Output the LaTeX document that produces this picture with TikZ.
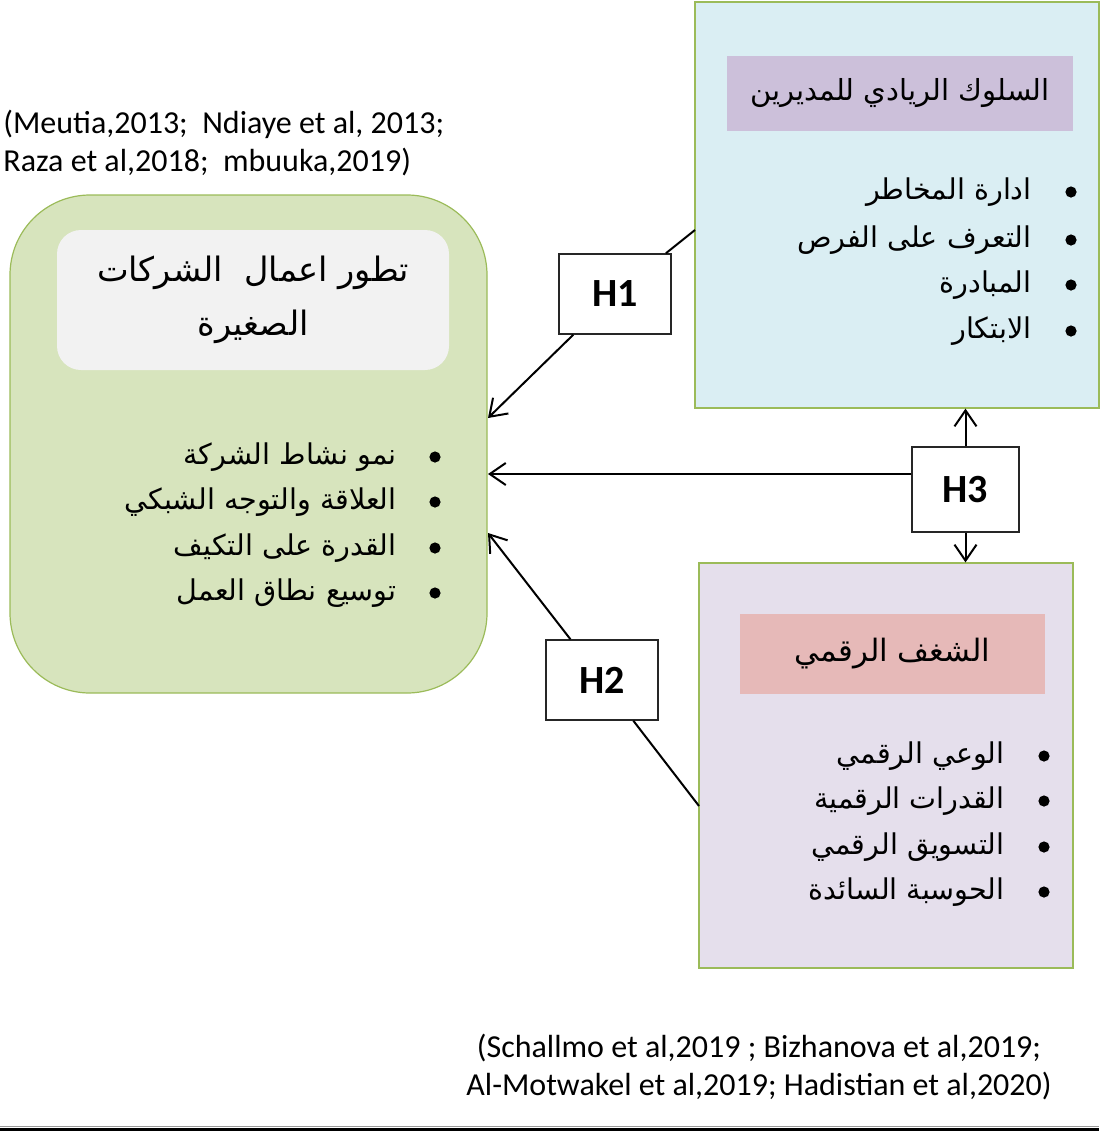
\documentclass[tikz,border=0pt]{standalone}
\usepackage{fontspec}
\setmainfont{Carlito}
\newfontfamily\arabicfont[Script=Arabic]{DejaVu Sans}
\TeXXeTstate=1
\usetikzlibrary{arrows.meta}
\definecolor{edgegreen}{HTML}{9BBB59}
\definecolor{fillgreen}{HTML}{D7E4BD}
\definecolor{fillgray}{HTML}{F2F2F2}
\definecolor{fillblue}{HTML}{DAEEF3}
\definecolor{fillmauve}{HTML}{CCC0DA}
\definecolor{filllilac}{HTML}{E5DFEC}
\definecolor{fillpink}{HTML}{E6B9B8}
\newcommand{\artext}[1]{{\arabicfont\beginR #1\endR}}
\begin{document}
\begin{tikzpicture}[x=0.5pt, y=-0.5pt, >={Straight Barb[length=8pt,width=11pt]},
    bigbox/.style={draw=edgegreen, line width=0.6pt, inner sep=0pt},
    titlebox/.style={inner sep=0pt, font=\fontsize{14.5}{19}\selectfont},
    hbox/.style={draw=black!85, fill=white, line width=0.7pt, inner sep=0pt,
        minimum width=56pt, minimum height=40pt, font=\bfseries\fontsize{20}{22}\selectfont},
    item/.style={anchor=east, inner sep=0pt, font=\fontsize{14.3}{16}\selectfont},
    cite/.style={inner sep=0pt, font=\fontsize{16}{19}\selectfont}]
    \useasboundingbox (0,0) rectangle (1099,1131);

    % 1. Khung lớn
    \node[bigbox, fill=fillblue, minimum width=202pt, minimum height=203pt] (bev) at (897,205) {};
    \node[bigbox, fill=fillgreen, rounded corners=40pt, minimum width=238.5pt, minimum height=249pt] (grow) at (248.5,444) {};
    \node[bigbox, fill=filllilac, minimum width=187pt, minimum height=202.5pt] (dig) at (886,765.5) {};

    % 2. Tiêu đề
    \node[titlebox, fill=fillmauve, minimum width=173pt, minimum height=37.5pt] (bevt) at (900,93.5) {\artext{السلوك الريادي للمديرين}};
    \node[titlebox, fill=fillgray, rounded corners=12pt, minimum width=196pt, minimum height=70pt,
        align=center, font=\fontsize{16.8}{27}\selectfont] (growt) at (253,300) {\artext{تطور اعمال \ الشركات}\\ \artext{الصغيرة}};
    \node[titlebox, fill=fillpink, minimum width=152.5pt, minimum height=40pt, font=\fontsize{15.4}{19}\selectfont] (digt) at (892.5,654) {\artext{الشغف الرقمي}};

    % 3. Các gạch đầu dòng
    \node[item] (b1) at (1032,192) {\artext{ادارة المخاطر}};
    \node[item] (b2) at (1032,240) {\artext{التعرف على الفرص}};
    \node[item] (b3) at (1032,285) {\artext{المبادرة}};
    \node[item] (b4) at (1032,331) {\artext{الابتكار}};
    \node[item] (g1) at (397,457) {\artext{نمو نشاط الشركة}};
    \node[item] (g2) at (397,502) {\artext{العلاقة والتوجه الشبكي}};
    \node[item] (g3) at (397,548) {\artext{القدرة على التكيف}};
    \node[item] (g4) at (397,593) {\artext{توسيع نطاق العمل}};
    \node[item] (d1) at (1005,756) {\artext{الوعي الرقمي}};
    \node[item] (d2) at (1005,801) {\artext{القدرات الرقمية}};
    \node[item] (d3) at (1005,847) {\artext{التسويق الرقمي}};
    \node[item] (d4) at (1005,892) {\artext{الحوسبة السائدة}};
    \foreach \y in {192,240,285,331} \fill (1071,\y) circle (2.8pt);
    \foreach \y in {457,502,548,593} \fill (435,\y) circle (2.8pt);
    \foreach \y in {756,801,847,892} \fill (1044,\y) circle (2.8pt);

    % 4. Giả thuyết
    \node[hbox] (h1) at (615,294) {H1};
    \node[hbox] (h2) at (602,680) {H2};
    \node[hbox, minimum width=53.5pt, minimum height=42.5pt] (h3) at (965.5,489.5) {H3};

    \coordinate (e1) at (695,230);
    \coordinate (a1) at (488,418);
    \coordinate (a3) at (488,474);
    \coordinate (a2) at (488,533);
    \coordinate (e2) at (699,806);
    \draw[line width=1pt] (h1) -- (e1);
    \draw[line width=1pt, ->] (h1) -- (a1);
    \draw[line width=1pt, ->] (h3.west |- a3) -- (a3);
    \draw[line width=1pt, ->] (h3.north) -- (h3.north |- bev.south);
    \draw[line width=1pt, ->] (h3.south) -- (h3.south |- dig.north);
    \draw[line width=1pt] (h2) -- (e2);
    \draw[line width=1pt, ->] (h2) -- (a2);

    % 5. Trích dẫn
    \node[cite, anchor=west, align=left] (refa) at (3,143) {(Meutia,2013;\ \ Ndiaye et al, 2013;\\Raza et al,2018;\ \ mbuuka,2019)};
    \node[cite, align=center] (refb) at (759,1067) {(Schallmo et al,2019 ; Bizhanova et al,2019;\\Al-Motwakel et al,2019; Hadistian et al,2020)};

    % 6. Đường kẻ cuối
    \draw[black!40, line width=0.4pt] (0,1126.5) -- (1099,1126.5);
    \draw[line width=1.5pt] (0,1129.5) -- (1099,1129.5);
\end{tikzpicture}
\end{document}
